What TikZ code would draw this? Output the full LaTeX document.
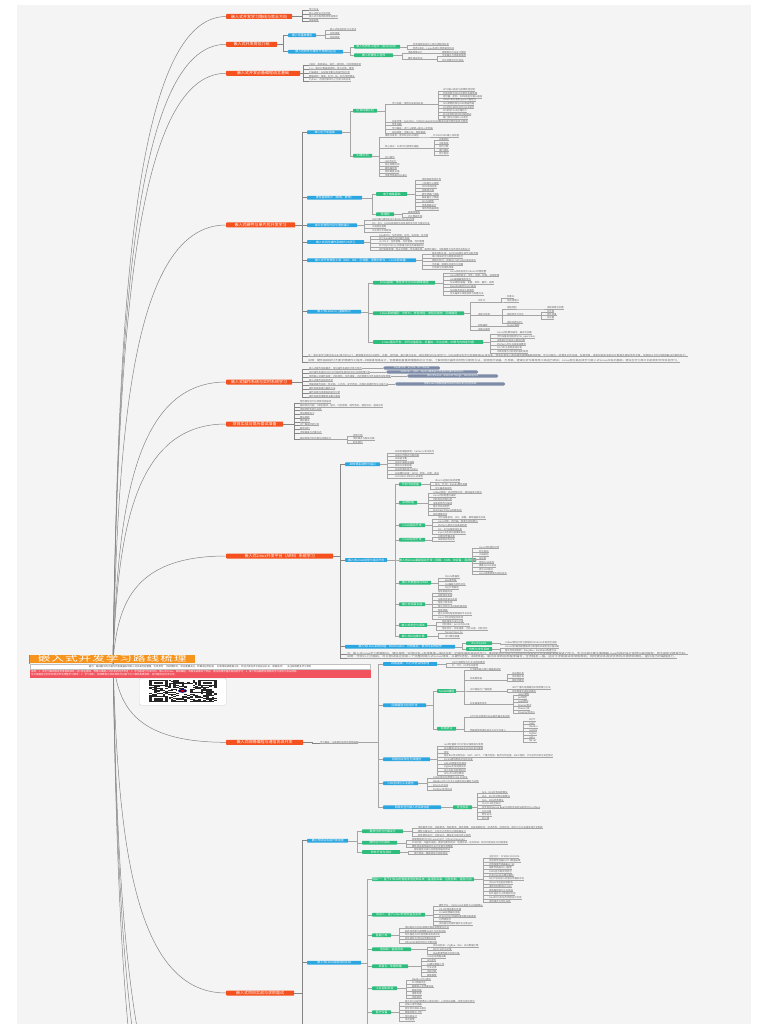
\documentclass[tikz,border=0pt]{standalone}
\usepackage{fontspec}
\setmainfont{Noto Sans CJK SC}
\usetikzlibrary{calc}
\definecolor{bgc}{HTML}{F4F4F4}
\definecolor{orgc}{HTML}{F4511E}
\definecolor{rootc}{HTML}{F7941D}
\definecolor{bluc}{HTML}{2CA6E0}
\definecolor{grnc}{HTML}{2EBD7D}
\definecolor{pilc}{HTML}{7C8BA6}
\definecolor{redc}{HTML}{F2545F}
\definecolor{txtc}{HTML}{6A6A6A}
\definecolor{linc}{HTML}{A5A5A5}
\definecolor{curc}{HTML}{858585}
\newcounter{lfc}
\tikzset{
 obox/.style={fill=orgc,text=white,anchor=west,inner sep=0pt,minimum height=5pt,rounded corners=0.6pt,font=\fontsize{4}{4}\selectfont},
 bbox/.style={fill=bluc,text=white,anchor=west,inner sep=0pt,minimum height=3.8pt,rounded corners=0.6pt,font=\fontsize{2.9}{2.9}\selectfont},
 gbox/.style={fill=grnc,text=white,anchor=west,inner sep=0pt,minimum height=3.8pt,rounded corners=0.6pt,font=\fontsize{2.9}{2.9}\selectfont},
 pbox/.style={fill=pilc,text=white,anchor=west,inner sep=0pt,minimum height=3.4pt,rounded corners=1.5pt,font=\fontsize{2.5}{2.5}\selectfont},
 leaf/.style={anchor=south west,inner sep=0pt,outer sep=0pt,text=txtc,font=\fontsize{2.4}{2.9}\selectfont},
 conn/.style={draw=linc,line width=0.3pt},
 bconn/.style={draw=curc,line width=0.7pt},
 uline/.style={draw=linc,line width=0.25pt},
 curve/.style={draw=curc,line width=0.5pt},
 lc/.style={conn}
}
\newcommand\ob[5]{\node[obox,minimum width=#4pt] (#1) at (#2,#3) {#5};}
\newcommand\bc[8]{\node[#1,minimum width=#7pt] (#2) at (#5,#6) {#8};
 \draw[lc] let \p1=(#3.east) in (\p1) -- (#4pt,\y1) |- (#2.west);}
\newcommand\lf[6][east]{\stepcounter{lfc}\edef\lfn{z\arabic{lfc}}%
 \node[leaf] (\lfn) at ($(#4,#5)+(0,1.3)$) {#6};
 \draw[uline] (\lfn.south west) -- (\lfn.south east);
 \draw[lc] let \p1=(#2.#1) in (\p1) -- (#3pt,\y1) |- (\lfn.south west);}
\newcommand\nl[7][east]{\node[leaf] (#2) at ($(#5,#6)+(0,1.3)$) {#7};
 \draw[uline] (#2.south west) -- (#2.south east);
 \draw[lc] let \p1=(#3.#1) in (\p1) -- (#4pt,\y1) |- (#2.south west);}
\newcommand\fitw[2]{\resizebox{#1pt}{\height}{#2}}
\begin{document}
\begin{tikzpicture}[x=1pt,y=-1pt]
\fill[white] (0,0) rectangle (768,1024);
\useasboundingbox (0,0) rectangle (768,1024);
\fill[bgc] (17,5) rectangle (751,1024);
\coordinate (rc) at (113,660);
\coordinate (off1) at (226,1180);
\coordinate (off2) at (226,1230);
\coordinate (off3) at (226,1290);
% ---------- main branches
\ob{O1}{226}{16.5}{66}{嵌入式开发学习路线与就业方向}
\ob{O2}{226}{44.3}{51}{嵌入式开发岗位介绍}
\ob{O3}{226}{73.3}{74}{嵌入式开发必备编程语言基础}
\ob{O4}{226}{225}{69}{嵌入式硬件与单片机开发学习}
\ob{O5}{226}{382}{66}{嵌入式操作系统与实时系统学习}
\ob{O6}{226}{424}{57}{项目实战与简历面试准备}
\ob{O7}{226}{556}{107}{嵌入式Linux开发平台（ARM）系统学习}
\ob{O8}{226}{742.3}{77}{嵌入式网络编程与通信协议开发}
\ob{O9}{226}{993}{68}{嵌入式项目实战与求职面试}
% ---------- curves
\draw[curve] (rc) .. controls (118,338.3) and (130,16.5) .. (O1.west);
\draw[curve] (rc) .. controls (118,352.2) and (130,44.3) .. (O2.west);
\draw[curve] (rc) .. controls (118,366.7) and (130,73.3) .. (O3.west);
\draw[curve] (rc) .. controls (118,442.5) and (130,225) .. (O4.west);
\draw[curve] (rc) .. controls (118,521) and (130,382) .. (O5.west);
\draw[curve] (rc) .. controls (118,542) and (130,424) .. (O6.west);
\draw[curve] (rc) .. controls (118,608) and (130,556) .. (O7.west);
\draw[curve] (rc) .. controls (118,701.2) and (130,742.3) .. (O8.west);
\draw[curve] (rc) .. controls (118,826.5) and (130,993) .. (O9.west);
\draw[curve] (rc) .. controls (118,920) and (130,1180) .. (off1);
\draw[curve] (rc) .. controls (118,945) and (130,1230) .. (off2);
\draw[curve] (rc) .. controls (118,975) and (130,1290) .. (off3);
% ---------- root
\node[fill=rootc,text=white,anchor=west,inner sep=0pt,minimum width=166pt,minimum height=8.3pt,text height=5.6pt,text depth=1.2pt] (root) at (29,659.2) {\scalebox{1.75}[1]{\fontsize{7.2}{7.2}\selectfont\addfontfeatures{LetterSpace=8}嵌入式开发学习路线梳理}};
\fill[grnc] (root.north west) rectangle ($(root.south west)+(1.2,0)$);
\node[anchor=north west,fill=white,draw=black!25,line width=0.3pt,inner sep=0.6pt,minimum width=340pt,minimum height=4.6pt,text=black!70,font=\fontsize{2.4}{2.4}\selectfont] (gbar) at (30,664) {提示：路线图中的内容为作者根据多年嵌入式开发经验整理，仅供参考 \quad 持续更新中，欢迎收藏关注，转载请注明出处 \quad 如有错误或遗漏之处，欢迎大家在评论区指正补充，谢谢支持！ \quad 关注获取更多学习资料};
\node[anchor=north west,fill=redc,text=white,inner sep=0.8pt,minimum width=341pt,minimum height=8pt,text width=339pt,align=left,font=\fontsize{2.5}{3.2}\selectfont] (rbar) at (30,669.3) {说明：1. 本学习路线图适合零基础或有一定C语言基础、想要从事嵌入式开发的同学参考；2. 学习路线分为单片机、嵌入式Linux、网络编程、项目实战等多个阶段，建议按顺序循序渐进地学习；3. 每个阶段都配有推荐的学习资料与实战项目，\\可以根据自己的实际情况灵活调整学习顺序；4. 学习资料、视频教程与项目源码可扫描下方二维码免费获取，有问题欢迎交流讨论。};
\node[anchor=north west,fill=white,draw=black!18,line width=0.4pt,rounded corners=1.5pt,minimum width=87pt,minimum height=27pt,inner sep=0pt] (qr) at (139,678) {};
\pgfmathsetseed{42}
\foreach \i in {0,...,24}{\foreach \j in {0,...,24}{%
 \pgfmathrandominteger{\qq}{0}{1}%
 \ifnum\qq=1 \fill[black!85] (149+\i*2.72,679.8+\j*0.9) rectangle ++(2.72,0.9);\fi}}
\foreach \fx/\fy in {0/0,18/0,0/18}{%
 \fill[white] (149+\fx*2.72-1,679.8+\fy*0.9-0.3) rectangle ++(7*2.72+2,7*0.9+0.6);
 \fill[black!85] (149+\fx*2.72,679.8+\fy*0.9) rectangle ++(7*2.72,7*0.9);
 \fill[white] (149+\fx*2.72+2.72,679.8+\fy*0.9+0.9) rectangle ++(5*2.72,5*0.9);
 \fill[black!85] (149+\fx*2.72+5.44,679.8+\fy*0.9+1.8) rectangle ++(3*2.72,3*0.9);}
\fill[white] (177,688.5) rectangle (188,693.2);
\fill[blue!40!black] (182.5,690.85) ellipse (4.5 and 1.9);
\fill[red!80!black] (182.5,690.85) ellipse (2.2 and 1);
% ================= Branch 1
\tikzset{lc/.style={bconn}}
\lf{O1}{302}{309}{9.3}{学习方法}
\lf{O1}{302}{309}{13.3}{嵌入式就业方向分析}
\lf{O1}{302}{309}{16.7}{嵌入式工程师薪资待遇情况}
\lf{O1}{302}{309}{20.3}{发展前景}
% ================= Branch 2
\bc{bbox}{B2a}{O2}{283}{288}{35.3}{28}{嵌入式基本概念}
\bc{bbox}{B2b}{O2}{283}{288}{51.7}{55}{嵌入式软件与硬件开发岗位区别}
\tikzset{lc/.style={conn}}
\lf{B2a}{325}{330}{29.3}{嵌入式系统的定义与特点}
\lf{B2a}{325}{330}{33.3}{应用领域}
\lf{B2a}{325}{330}{37.3}{系统组成}
\bc{gbox}{G2a}{B2b}{350}{354}{46.7}{46}{嵌入式软件工程师（驱动/应用）}
\bc{gbox}{G2b}{B2b}{350}{354}{55.3}{39}{嵌入式硬件工程师}
\lf{G2a}{407}{413}{44}{负责底层驱动与上层应用程序开发}
\lf{G2a}{407}{413}{48.3}{熟悉C语言、Linux系统与常用通信协议}
\nl{g2b1}{G2b}{402}{408}{52.3}{电路原理设计}
\lf[south east]{g2b1}{437}{442}{52.3}{原理图与PCB设计绘制}
\nl{g2b2}{G2b}{402}{408}{58.3}{硬件调试测试}
\lf[south east]{g2b2}{437}{442}{55.3}{示波器与万用表的使用}
\lf[south east]{g2b2}{437}{442}{60}{信号完整性分析测试}
% ================= Branch 3
\tikzset{lc/.style={bconn}}
\lf{O3}{303}{309}{64.3}{C语言：基础语法、指针、结构体、内存管理机制}
\lf{O3}{303}{309}{68}{C++：面向对象编程思想、类与对象、模板}
\lf{O3}{303}{309}{72}{汇编语言：ARM指令集与启动代码分析}
\lf{O3}{303}{309}{76}{数据结构：链表、队列、栈、树与常用算法}
\lf{O3}{303}{309}{80}{Python：自动化脚本与上位机工具开发}
% ================= Branch 4
\bc{bbox}{B4a}{O4}{302}{307}{132.3}{35}{单片机开发基础}
\bc{bbox}{B4b}{O4}{302}{307}{197.7}{55}{硬件基础知识（模电、数电）}
\bc{bbox}{B4c}{O4}{302}{307}{225.3}{50}{单片机常用外设与通信接口}
\bc{bbox}{B4d}{O4}{302}{307}{242}{57}{嵌入式实时操作系统RTOS学习}
\bc{bbox}{B4e}{O4}{302}{307}{260.3}{109}{嵌入式开发常用工具（Keil、IAR、示波器、逻辑分析仪、J-Link调试器）}
\bc{bbox}{B4f}{O4}{302}{307}{311.7}{54}{嵌入式Linux入门基础知识}
\lf{O4}{302}{308}{355.3}{\fitw{380}{注：单片机学习建议先从51单片机入门，掌握基本的IO口操作、中断、定时器、串口等外设后，再过渡到STM32的学习；STM32建议先学习标准库或HAL库开发，熟练后再深入寄存器层面理解底层原理。学习过程中一定要多动手实践，多做项目，遇到问题多查阅芯片数据手册和参考手册，培养独立分析问题和解决问题的能力。}}
\lf{O4}{302}{308}{360.7}{\fitw{372}{说明：硬件基础部分不要求像硬件工程师一样精通电路设计，但需要能看懂原理图和芯片手册，了解常用元器件的特性与使用方法，会使用示波器、万用表、逻辑分析仪等常用工具进行调试；Linux部分是后续学习嵌入式Linux开发的基础，建议在学习单片机的同时尽早开始学习。}}
\tikzset{lc/.style={conn}}
\bc{gbox}{G4a}{B4a}{350}{353}{110.7}{24}{STM32单片机}
\bc{gbox}{G4b}{B4a}{350}{353}{155.7}{19}{51单片机}
\nl{s1}{G4a}{385}{392}{103.3}{学习内容：常用外设驱动开发}
\lf[south east]{s1}{438}{443}{89.5}{GPIO输入输出与按键检测控制}
\lf[south east]{s1}{438}{443}{93}{外部中断与NVIC中断优先级管理}
\lf[south east]{s1}{438}{443}{96.5}{定时器：定时、PWM输出与输入捕获}
\lf[south east]{s1}{438}{443}{100}{USART串口收发与printf重定向}
\lf[south east]{s1}{438}{443}{103.5}{ADC模数转换与DMA数据传输}
\lf[south east]{s1}{438}{443}{107}{I2C读写EEPROM与OLED显示}
\lf[south east]{s1}{438}{443}{110.5}{SPI读写Flash存储芯片}
\lf[south east]{s1}{438}{443}{114}{RTC实时时钟与低功耗模式}
\lf[south east]{s1}{438}{443}{117.5}{看门狗与内部Flash读写}
\lf{G4a}{385}{392}{121}{开发环境：Keil MDK、STM32CubeMX与IAR集成开发环境的安装与使用}
\lf{G4a}{385}{392}{124.3}{参考书籍}
\lf{G4a}{385}{392}{128.3}{学习路线：点灯→按键→串口→定时器}
\lf{G4a}{385}{392}{132}{实战项目：平衡小车、智能家居}
\nl{s2}{G4b}{379}{385}{135.7}{推荐开发板：普中科技51开发板}
\lf[south east]{s2}{428}{433}{135.7}{STC89C52RC最小系统板}
\nl{s3}{G4b}{379}{385}{146.7}{核心知识：51单片机原理与编程}
\lf[south east]{s3}{434}{439}{139.3}{存储结构}
\lf[south east]{s3}{434}{439}{143}{中断系统}
\lf[south east]{s3}{434}{439}{146.7}{定时计数}
\lf[south east]{s3}{434}{439}{150.3}{串行通信}
\lf[south east]{s3}{434}{439}{153.7}{显示驱动}
\lf{G4b}{379}{385}{157.3}{IO口操作}
\lf{G4b}{379}{385}{161}{LED流水灯}
\lf{G4b}{379}{385}{164.7}{独立按键检测}
\lf{G4b}{379}{385}{168.3}{蜂鸣器控制}
\lf{G4b}{379}{385}{171.7}{矩阵键盘扫描}
\lf{G4b}{379}{385}{175.3}{温度传感器DS18B20}
\bc{gbox}{G4c}{B4b}{372}{376}{194}{31}{电子电路基础}
\bc{gbox}{G4d}{B4b}{372}{376}{214.3}{18}{原理图}
\lf{G4c}{415}{422}{179.3}{电阻电容电感元件}
\lf{G4c}{415}{422}{183}{二极管与三极管}
\lf{G4c}{415}{422}{186.7}{MOS场效应管}
\lf{G4c}{415}{422}{190}{运算放大器}
\lf{G4c}{415}{422}{194}{数字逻辑门电路}
\lf{G4c}{415}{422}{197.7}{触发器与计数器}
\lf{G4c}{415}{422}{201.3}{AD/DA转换}
\lf{G4c}{415}{422}{205}{电源电路设计}
\lf{G4c}{415}{422}{208.7}{常用传感器原理}
\lf{G4d}{402}{408}{212}{看懂原理图}
\lf{G4d}{402}{408}{216.3}{芯片数据手册}
\lf{B4c}{364}{372}{219.3}{UART串口通信协议与RS232/RS485标准}
\lf{B4c}{364}{372}{223.3}{I2C、SPI、CAN总线通信协议及其时序分析与调试方法}
\lf{B4c}{364}{372}{226.7}{USB通信基础}
\lf{B4c}{364}{372}{230.7}{以太网与无线模块}
\lf{B4d}{370}{379}{235}{FreeRTOS：任务调度、队列、信号量、互斥锁}
\lf{B4d}{370}{379}{238.3}{RT-Thread国产实时操作系统}
\lf{B4d}{370}{379}{242}{uC/OS-II：任务管理、内存管理、时间管理}
\lf{B4d}{370}{379}{245.7}{RTOS在STM32上的移植与多任务编程实践}
\lf{B4d}{370}{379}{249.3}{实时系统原理：抢占式调度、优先级反转、临界区保护、中断嵌套与任务同步机制设计}
\lf{B4e}{422}{432}{253.3}{版本控制工具：Git与SVN团队协作开发流程}
\lf{B4e}{422}{432}{256.7}{串口调试助手与网络调试助手}
\lf{B4e}{422}{432}{260.3}{逻辑分析仪：抓取I2C/SPI/UART通信波形}
\lf{B4e}{422}{432}{264}{示波器：观察信号波形与测量}
\lf{B4e}{422}{432}{267.7}{万用表与电烙铁焊接}
\bc{gbox}{G4e}{B4f}{368}{373}{282.7}{62}{Linux基础：常用命令与Shell脚本编程}
\bc{gbox}{G4f}{B4f}{368}{373}{313.3}{91}{Linux系统编程：文件IO、进程线程、进程间通信、网络编程}
\bc{gbox}{G4g}{B4f}{368}{373}{342}{110}{Linux驱动开发：字符设备驱动、设备树、平台总线、中断与内核定时器}
\lf{G4e}{443}{450}{271.7}{Linux系统安装与Ubuntu环境配置}
\lf{G4e}{443}{450}{275.3}{Linux常用命令：文件、目录、权限、进程管理}
\lf{G4e}{443}{450}{279}{vim编辑器使用技巧}
\lf{G4e}{443}{450}{282.7}{Shell脚本编程：变量、条件、循环、函数}
\lf{G4e}{443}{450}{286.3}{Makefile编写与GCC编译}
\lf{G4e}{443}{450}{290}{GDB程序调试工具使用}
\lf{G4e}{443}{450}{293.7}{交叉编译工具链安装与配置方法}
\nl{p1}{G4f}{470}{478}{300.7}{文件IO}
\lf[south east]{p1}{501}{507}{296.7}{标准IO}
\lf[south east]{p1}{501}{507}{300.7}{系统调用IO}
\nl{p2}{G4f}{470}{478}{314.3}{进程与线程}
\nl[south east]{p21}{p2}{502}{507}{307.7}{进程控制}
\lf[south east]{p21}{541}{547}{307.7}{进程创建与回收}
\nl[south east]{p22}{p2}{502}{507}{314.3}{线程同步与互斥}
\lf[south east]{p22}{541}{547}{311}{互斥锁}
\lf[south east]{p22}{541}{547}{314.3}{条件变量}
\lf[south east]{p22}{541}{547}{317.7}{信号量}
\lf[south east]{p2}{502}{507}{322}{进程间通信IPC}
\nl{p3}{G4f}{470}{478}{325}{网络编程}
\lf[south east]{p3}{501}{507}{325}{Socket编程}
\lf{G4f}{470}{478}{329.3}{多路IO复用}
\lf{G4g}{490}{497}{332.7}{Linux内核模块编写、编译与加载}
\lf{G4g}{490}{497}{336.7}{字符设备驱动框架与file\_operations}
\lf{G4g}{490}{497}{340.3}{设备树DTS语法与驱动匹配}
\lf{G4g}{490}{497}{344.3}{Platform平台总线驱动模型}
\lf{G4g}{490}{497}{348}{I2C/SPI子系统驱动开发}
\lf{G4g}{490}{497}{351.7}{中断处理与内核定时器的使用}
% ================= Branch 5
\tikzset{lc/.style={bconn}}
\nl{r1}{O5}{302}{309}{368}{嵌入式操作系统概述：常见操作系统的分类与特点}
\nl{r2}{O5}{302}{309}{372}{实时操作系统RTOS与分时操作系统的区别与应用场景分析}
\nl{r3}{O5}{302}{309}{376}{常用嵌入式操作系统：内核架构、任务调度、内存管理与文件系统的实现原理}
\nl{r4}{O5}{302}{309}{380}{嵌入式操作系统的选型}
\nl{r5}{O5}{302}{309}{384}{物联网操作系统：低功耗、小内存、安全连接、远程升级等特性与开发方法}
\lf{O5}{302}{309}{388}{操作系统移植与裁剪方法}
\lf{O5}{302}{309}{392}{操作系统内核源码阅读与分析}
\lf{O5}{302}{309}{396}{操作系统原理推荐书籍与课程}
\tikzset{lc/.style={conn}}
\bc{pbox}{P1}{r1}{376}{383}{368}{57}{FreeRTOS、uC/OS、RT-Thread}
\bc{pbox}{P2}{r2}{383}{386}{372}{92}{VxWorks、QNX、Zephyr等商业与开源实时操作系统对比}
\bc{pbox}{P3}{r3}{404}{407}{376}{91}{嵌入式Linux、Android Things、HarmonyOS}
\bc{pbox}{P5}{r5}{392}{395}{384}{110}{鸿蒙LiteOS物联网操作系统内核开发与应用实践}
% ================= Branch 6
\tikzset{lc/.style={bconn}}
\lf{O6}{294}{300}{401.7}{简历撰写技巧与项目经验描述}
\lf{O6}{294}{300}{405.7}{面试常见问题：C语言基础、指针、内存管理、操作系统、通信协议、驱动开发}
\lf{O6}{294}{300}{409.3}{项目经验包装与总结}
\lf{O6}{294}{300}{413.3}{笔试题目练习}
\lf{O6}{294}{300}{417}{算法刷题}
\lf{O6}{294}{300}{420.7}{模拟面试}
\lf{O6}{294}{300}{424.3}{大厂面试经验分享}
\lf{O6}{294}{300}{428}{薪资谈判}
\lf{O6}{294}{300}{432}{求职渠道与内推方式}
\nl{n6}{O6}{294}{300}{438.3}{面试官常问的问题与回答技巧}
\tikzset{lc/.style={conn}}
\lf[south east]{n6}{347}{353}{435}{自我介绍}
\lf[south east]{n6}{347}{353}{438.7}{项目难点与解决方案}
\lf[south east]{n6}{347}{353}{442}{职业规划}
% ================= Branch 7
\tikzset{lc/.style={bconn}}
\bc{bbox}{B7a}{O7}{340}{345}{464.3}{35}{ARM体系结构与接口}
\bc{bbox}{B7b}{O7}{340}{345}{560}{42}{嵌入式Linux应用与驱动开发}
\bc{bbox}{B7c}{O7}{340}{345}{646.7}{110}{嵌入式Linux系统移植：Bootloader、内核裁剪、根文件系统制作}
\lf{O7}{340}{347}{653.3}{\fitw{341}{注：嵌入式Linux学习周期较长，建议按照“应用开发→系统移植→驱动开发”的顺序循序渐进地学习，推荐使用正点原子I.MX6ULL或者野火开发板配套教程进行学习，学习过程中要注重理解Linux内核的设计思想与驱动框架，而不是死记硬背代码。}}
\lf{O7}{340}{347}{657}{\fitw{330}{说明：学完以上内容后，可以尝试独立完成一个完整的嵌入式Linux项目，从硬件选型、系统移植、驱动开发到应用程序编写，全流程走一遍，这对于求职面试非常有帮助；同时建议多阅读优秀的开源项目源码，提升自己的编程能力。}}
\tikzset{lc/.style={conn}}
\lf{B7a}{387}{395}{451.7}{ARM处理器架构：Cortex-A/R/M系列}
\lf{B7a}{387}{395}{455}{ARM工作模式与寄存器}
\lf{B7a}{387}{395}{458.7}{ARM指令集}
\lf{B7a}{387}{395}{462}{ARM汇编语言编程}
\lf{B7a}{387}{395}{465.7}{异常与中断处理}
\lf{B7a}{387}{395}{469.3}{ARM存储系统与MMU}
\lf{B7a}{387}{395}{473}{ARM裸机开发：GPIO、时钟、中断、串口}
\lf{B7a}{387}{395}{476.7}{S3C2440/I.MX6ULL开发板}
\bc{gbox}{g71}{B7b}{395}{399}{484.3}{22}{开发环境搭建}
\bc{gbox}{g72}{B7b}{395}{399}{502.7}{18}{系统移植}
\bc{gbox}{g73}{B7b}{395}{399}{525.3}{26}{Linux驱动开发}
\bc{gbox}{g74}{B7b}{395}{399}{539.7}{26}{Linux应用开发}
\bc{gbox}{g75}{B7b}{395}{399}{560}{73}{嵌入式Linux高级驱动开发（网络、USB、块设备、音视频）}
\bc{gbox}{g76}{B7b}{395}{399}{582.7}{32}{嵌入式数据库与Web}
\bc{gbox}{g77}{B7b}{395}{399}{604.3}{26}{嵌入式项目实战}
\bc{gbox}{g78}{B7b}{395}{399}{625}{28}{嵌入式安全与调试}
\bc{gbox}{g79}{B7b}{395}{399}{636}{28}{嵌入式AI边缘计算}
\lf{g71}{430}{435}{480.7}{Ubuntu虚拟机安装配置}
\lf{g71}{430}{435}{484.3}{NFS、TFTP、Samba服务搭建}
\lf{g71}{430}{435}{488.3}{交叉编译器安装}
\lf{g72}{428}{433}{492}{U-Boot移植：启动流程分析、源码编译与烧写}
\lf{g72}{428}{433}{495.7}{Linux内核配置与编译}
\lf{g72}{428}{433}{499.3}{内核启动流程分析}
\lf{g72}{428}{433}{503}{设备树修改与编译}
\lf{g72}{428}{433}{506.7}{根文件系统制作}
\lf{g72}{428}{433}{510.3}{Buildroot与Yocto构建系统}
\lf{g72}{428}{433}{514}{系统镜像烧写}
\lf{g73}{432}{438}{517.7}{字符设备驱动：LED、按键、蜂鸣器驱动开发}
\lf{g73}{432}{438}{521.3}{Linux中断、定时器、阻塞与非阻塞IO}
\lf{g73}{432}{438}{525.3}{Platform驱动与设备树匹配}
\lf{g73}{432}{438}{529}{I2C、SPI设备驱动开发}
\lf{g73}{432}{438}{532.7}{Input子系统与触摸屏驱动}
\lf{g74}{432}{438}{536.3}{Qt图形界面开发}
\lf{g74}{432}{438}{539.7}{多媒体应用开发}
\lf{g75}{472}{479}{547.3}{Linux内核源码分析}
\lf{g75}{472}{479}{551}{网卡驱动}
\lf{g75}{472}{479}{554.7}{USB驱动}
\lf{g75}{472}{479}{558.3}{块设备}
\lf{g75}{472}{479}{562}{音频ALSA驱动}
\lf{g75}{472}{479}{565.7}{摄像头V4L2驱动}
\lf{g75}{472}{479}{569.7}{显示LCD驱动}
\lf{g75}{472}{479}{573.3}{Linux电源管理与调试技术}
\lf{g76}{438}{445}{576.7}{SQLite数据库}
\lf{g76}{438}{445}{580.3}{Boa服务器}
\lf{g76}{438}{445}{584}{CGI编程与网页交互}
\lf{g76}{438}{445}{587.7}{MQTT物联网}
\lf{g77}{432}{438}{591.7}{智能家居网关}
\lf{g77}{432}{438}{595.3}{视频监控系统}
\lf{g77}{432}{438}{599}{车载信息娱乐系统}
\lf{g77}{432}{438}{602.7}{智能门禁系统}
\lf{g77}{432}{438}{606.3}{基于Qt的工业控制终端项目}
\lf{g77}{432}{438}{610}{智能音箱}
\lf{g77}{432}{438}{613.7}{基于ARM的智能物联网平台开发}
\lf{g77}{432}{438}{617.7}{Linux下的远程监控系统}
\lf{g78}{436}{442}{621.3}{系统调试方法与工具}
\lf{g78}{436}{442}{625}{内核调试：printk与KGDB}
\lf{g78}{436}{442}{628.7}{性能优化：启动速度、内存占用、功耗优化}
\lf{g79}{438}{445}{632.3}{TensorFlow Lite}
\lf{g79}{438}{445}{636.7}{NPU模型部署}
\bc{gbox}{g7a}{B7c}{462}{466}{643.3}{26}{Bootloader}
\bc{gbox}{g7b}{B7c}{462}{466}{649}{26}{内核与文件系统}
\lf{g7a}{500}{505}{642.7}{U-Boot源码分析与移植到I.MX6ULL开发板全过程}
\lf{g7b}{500}{505}{646.7}{Linux内核裁剪配置编译与移植到开发板全过程详解}
\lf{g7b}{500}{505}{650.7}{根文件系统制作：BusyBox、Buildroot构建方法}
% ================= Branch 8
\tikzset{lc/.style={bconn}}
\nl{n8}{O8}{312}{320}{742}{学习路线：从基础到进阶的网络编程}
\tikzset{lc/.style={conn}}
\bc{bbox}{B8a}{n8}{378}{383}{664}{54}{网络基础：TCP/IP协议栈原理}
\bc{bbox}{B8b}{n8}{378}{383}{705.3}{43}{网络编程与应用开发}
\bc{bbox}{B8c}{n8}{378}{383}{759.3}{47}{网络协议栈与无线通信}
\bc{bbox}{B8d}{n8}{378}{383}{783.3}{35}{CAN总线与工业通信}
\bc{bbox}{B8e}{n8}{378}{383}{807.3}{58}{网络安全与嵌入式系统加密}
\lf{B8a}{446}{452}{662.3}{OSI七层模型与TCP/IP四层模型}
\lf{B8a}{446}{452}{665.7}{IP、TCP、UDP协议原理}
\bc{gbox}{g81}{B8b}{433}{437}{691}{19}{Socket编程}
\bc{gbox}{g82}{B8b}{433}{437}{728.7}{19}{网络协议}
\lf{g81}{464}{470}{669.3}{TCP服务器与客户端编程实现}
\nl{q2}{g81}{464}{470}{678.7}{并发服务器}
\lf[south east]{q2}{507}{512}{673.3}{多进程并发}
\lf[south east]{q2}{507}{512}{676.7}{多线程并发}
\lf[south east]{q2}{507}{512}{680.3}{线程池模型}
\nl{q3}{g81}{464}{470}{689.7}{UDP编程与广播组播}
\lf[south east]{q3}{507}{512}{687.7}{UDP广播与组播通信实现原理与方法}
\lf[south east]{q3}{507}{512}{691}{本地套接字进程间通信}
\nl{q4}{g81}{464}{470}{703}{IO多路复用技术}
\lf[south east]{q4}{513}{518}{694.3}{select模型}
\lf[south east]{q4}{513}{518}{698}{poll模型}
\lf[south east]{q4}{513}{518}{701.3}{epoll模型}
\lf[south east]{q4}{513}{518}{705.3}{Reactor模式}
\lf[south east]{q4}{513}{518}{708.7}{libevent库}
\lf[south east]{q4}{513}{518}{712}{Proactor异步IO}
\lf{g82}{464}{470}{716}{HTTP协议原理与Web服务器开发实现}
\nl{q6}{g82}{464}{470}{730}{物联网常用通信协议与云平台接入}
\lf[south east]{q6}{523}{529}{720}{MQTT}
\lf[south east]{q6}{523}{529}{723.3}{CoAP}
\lf[south east]{q6}{523}{529}{726.7}{Modbus}
\lf[south east]{q6}{523}{529}{730}{LwM2M}
\lf[south east]{q6}{523}{529}{733.7}{ZigBee}
\lf[south east]{q6}{523}{529}{737}{LoRa}
\lf[south east]{q6}{523}{529}{740.7}{NB-IoT}
\lf{B8c}{437}{444}{745}{LwIP轻量级TCP/IP协议栈移植与使用}
\lf{B8c}{437}{444}{748.3}{WiFi模块ESP8266/ESP32开发与联网}
\lf{B8c}{437}{444}{752}{蓝牙}
\lf{B8c}{437}{444}{755.7}{蓝牙BLE低功耗协议：GAP、GATT、广播与连接、服务与特征值、Mesh组网、OTA空中升级与安全配对}
\lf{B8c}{437}{444}{759.3}{4G/5G通信模组AT指令开发}
\lf{B8c}{437}{444}{763}{LoRa远距离无线通信}
\lf{B8c}{437}{444}{766.7}{ZigBee无线组网技术}
\lf{B8c}{437}{444}{770.3}{NFC与RFID射频识别}
\lf{B8c}{437}{444}{774}{GPS/北斗定位模块}
\lf{B8d}{427}{433}{777.3}{CAN总线协议原理与CAN FD协议}
\lf{B8d}{427}{433}{781.3}{Modbus RTU/TCP工业通信协议解析与实现}
\lf{B8d}{427}{433}{785.3}{EtherCAT总线}
\lf{B8d}{427}{433}{789}{Profibus现场总线}
\bc{gbox}{g8e}{B8e}{447}{453}{807.3}{19}{安全加密}
\lf{g8e}{477}{482}{792.3}{AES、DES对称加密算法}
\lf{g8e}{477}{482}{796}{RSA、ECC非对称加密算法}
\lf{g8e}{477}{482}{800}{SHA、MD5哈希算法}
\lf{g8e}{477}{482}{803.7}{SSL/TLS安全协议}
\lf{g8e}{477}{482}{807.3}{安全启动Secure Boot与固件签名验证机制与TrustZone}
\lf{g8e}{477}{482}{811}{OTA升级}
\lf{g8e}{477}{482}{814.7}{数字证书}
\lf{g8e}{477}{482}{818.3}{防火墙}
% ================= Branch 9
\tikzset{lc/.style={bconn}}
\bc{bbox}{B9a}{O9}{302}{307}{840.7}{41}{嵌入式项目实战开发流程}
\bc{bbox}{B9b}{O9}{302}{307}{962.7}{54}{嵌入式Linux综合项目实战}
\coordinate (o9e) at (302,1030);
\draw[bconn] (O9.east) -| (o9e);
\tikzset{lc/.style={conn}}
\bc{gbox}{g91}{B9a}{357}{362}{831.3}{41}{需求分析与方案设计}
\bc{gbox}{g92}{B9a}{357}{362}{842.7}{35}{硬件设计与调试}
\bc{gbox}{g93}{B9a}{357}{362}{852}{38}{软件开发与测试}
\lf{g91}{412}{418}{827.3}{项目需求分析：功能需求、性能需求、成本预算、开发周期评估、技术选型、风险评估、团队分工与进度安排计划制定}
\lf{g91}{412}{418}{831.3}{硬件方案设计：主控芯片选型与外围电路设计}
\lf{g91}{412}{418}{835.3}{软件架构设计：分层设计、模块化与接口定义规范}
\lf{g92}{406}{412}{839.3}{原理图绘制与PCB Layout设计（Altium Designer）}
\lf{g92}{406}{412}{842.7}{PCB打样、元器件采购、焊接与硬件调试：电源测试、信号测试、接口功能验证与问题排查}
\lf{g92}{406}{412}{846}{硬件测试报告编写与设计评审文档整理}
\lf{g93}{408}{414}{849.7}{驱动程序开发与应用程序编写调试}
\lf{g93}{408}{414}{853.3}{单元测试、集成测试与系统测试}
\bc{gbox}{g94}{B9b}{367}{372}{879.3}{102}{项目一：基于STM32的智能家居控制系统（温湿度采集、远程控制、语音识别）}
\bc{gbox}{g95}{B9b}{367}{372}{914.7}{53}{项目二：基于Linux的视频监控系统}
\bc{gbox}{g96}{B9b}{367}{372}{935.3}{19}{智能小车}
\bc{gbox}{g97}{B9b}{367}{372}{949.3}{39}{项目四：智能网关}
\bc{gbox}{g98}{B9b}{367}{372}{966.3}{36}{项目五：车载终端}
\bc{gbox}{g99}{B9b}{367}{372}{988.3}{25}{工业控制项目}
\bc{gbox}{g9a}{B9b}{367}{372}{1012.3}{19}{医疗设备}
\coordinate (g9e) at (367,1030);
\draw[conn] (B9b.east) -| (g9e);
\lf{g94}{483}{489}{856.7}{主控芯片：STM32F103C8T6}
\lf{g94}{483}{489}{860.4}{温湿度传感器DHT11数据采集}
\lf{g94}{483}{489}{864.1}{光照强度传感器BH1750}
\lf{g94}{483}{489}{867.8}{烟雾传感器MQ-2报警}
\lf{g94}{483}{489}{871.5}{OLED显示屏实时显示}
\lf{g94}{483}{489}{875.2}{ESP8266 WiFi模块联网}
\lf{g94}{483}{489}{878.9}{MQTT协议接入阿里云物联网平台}
\lf{g94}{483}{489}{882.6}{手机APP远程控制家电}
\lf{g94}{483}{489}{886.3}{语音识别模块LD3320}
\lf{g94}{483}{489}{890}{继电器控制灯光与风扇}
\lf{g94}{483}{489}{893.7}{红外遥控与人体感应检测}
\lf{g94}{483}{489}{897.4}{FreeRTOS多任务调度设计实现}
\lf{g94}{483}{489}{901}{项目难点与优化总结}
\lf{g95}{433}{439}{905.3}{硬件平台：I.MX6ULL开发板与USB摄像头}
\lf{g95}{433}{439}{909}{V4L2视频采集与处理}
\lf{g95}{433}{439}{912.7}{H.264视频编码压缩}
\lf{g95}{433}{439}{916.3}{RTSP/RTMP流媒体推流服务器搭建}
\lf{g95}{433}{439}{920}{Qt界面显示}
\lf{g95}{433}{439}{923.7}{多线程与网络传输优化方案设计}
\lf{g96}{399}{405}{927.3}{电机驱动与PWM调速控制实现原理与方法}
\lf{g96}{399}{405}{931}{超声波测距与避障算法设计与实现过程}
\lf{g96}{399}{405}{934.7}{红外循迹与PID控制算法调试优化}
\lf{g96}{399}{405}{938.3}{蓝牙遥控与手机APP通信实现}
\lf{g96}{399}{405}{942}{MPU6050姿态检测与平衡控制}
\lf{g97}{427}{433}{945.7}{多协议网关：ZigBee、BLE、WiFi数据汇聚}
\lf{g97}{427}{433}{949.3}{MQTT云平台对接}
\lf{g97}{427}{433}{953}{Web配置界面与远程升级}
\lf{g98}{421}{427}{956.7}{CAN总线数据采集}
\lf{g98}{421}{427}{960.3}{GPS定位}
\lf{g98}{421}{427}{964}{4G模块数据上传}
\lf{g98}{421}{427}{967.7}{行车记录}
\lf{g98}{421}{427}{971.3}{远程诊断}
\lf{g98}{421}{427}{975}{故障报警}
\lf{g99}{406}{412}{979}{Modbus RTU通信}
\lf{g99}{406}{412}{982.7}{PLC数据交互}
\lf{g99}{406}{412}{986.3}{触摸屏人机界面开发}
\lf{g99}{406}{412}{990}{数据存储}
\lf{g99}{406}{412}{993.7}{报警处理}
\lf{g99}{406}{412}{997.3}{远程监控}
\lf{g9a}{399}{405}{1001}{基于STM32的便携式心电监测仪：心电信号采集、滤波与波形显示}
\lf{g9a}{399}{405}{1004.7}{血氧心率传感器}
\lf{g9a}{399}{405}{1008.7}{蓝牙低功耗BLE通信}
\lf{g9a}{399}{405}{1012.3}{数据存储与上传}
\lf{g9a}{399}{405}{1016}{低功耗设计}
\lf{g9a}{399}{405}{1019.7}{电池管理}
\end{tikzpicture}
\end{document}
